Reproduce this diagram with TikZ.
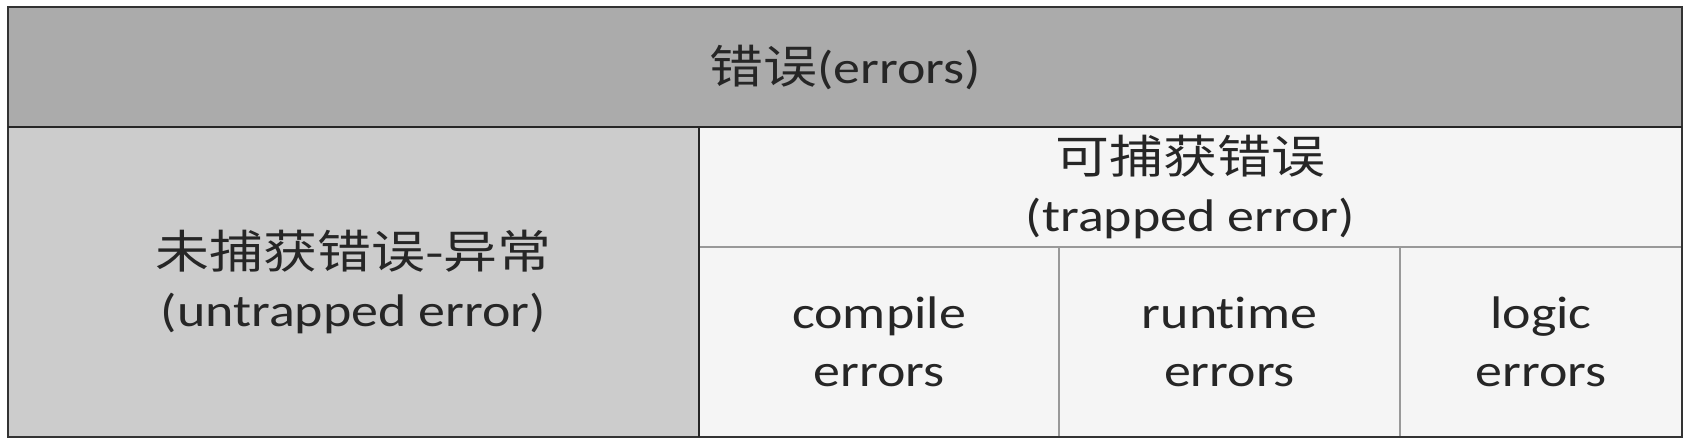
\documentclass[tikz,border=0pt]{standalone}
\usepackage{fontspec}
\setmainfont[FakeStretch=1.18, Ligatures=NoCommon]{Carlito}
\newfontfamily\cjk[FakeStretch=1.18]{Noto Sans CJK SC}
\usetikzlibrary{positioning}

\begin{document}
\begin{tikzpicture}[
			every node/.style={rectangle, inner sep=0pt, outer sep=0pt, align=center, text=black!85,
				font=\fontsize{26}{33}\selectfont},
			topbox/.style={draw=black!85, line width=1.6pt, fill=black!33},
			leftbox/.style={draw=black!85, line width=1.2pt, fill=black!20},
			cellbox/.style={draw=black!40, line width=1.6pt, fill=black!4},
			]
			\useasboundingbox (0,0) rectangle (33.72,8.84);
			% top bar
			\node[topbox, minimum width=33.48cm, minimum height=2.40cm, anchor=north west] (errors) at (0.16,8.70) {{\cjk 错误}(errors)};
			% left: untrapped
			\node[leftbox, minimum width=13.82cm, minimum height=6.20cm, anchor=north west] (untrapped) at (errors.south west) {{\cjk 未捕获错误-异常}\\(untrapped error)};
			% right: trapped
			\node[cellbox, minimum width=19.66cm, minimum height=2.40cm, anchor=north west] (trapped) at (untrapped.north east) {{\cjk 可捕获错误}\\(trapped error)};
			\node[cellbox, minimum width=7.20cm, minimum height=3.80cm, anchor=north west] (compile) at (trapped.south west) {compile\\errors};
			\node[cellbox, minimum width=6.82cm, minimum height=3.80cm, right=0pt of compile] (runtime) {runtime\\errors};
			\node[cellbox, minimum width=5.64cm, minimum height=3.80cm, right=0pt of runtime] (logic) {logic\\errors};
			% outer frame
			\draw[black!80, line width=1.2pt] (errors.north west) rectangle (logic.south east);
			\draw[black!85, line width=1.6pt] (errors.south west) -- (errors.south east);
			\draw[black!85, line width=1.2pt] (untrapped.north east) -- (untrapped.south east);
\end{tikzpicture}
\end{document}
